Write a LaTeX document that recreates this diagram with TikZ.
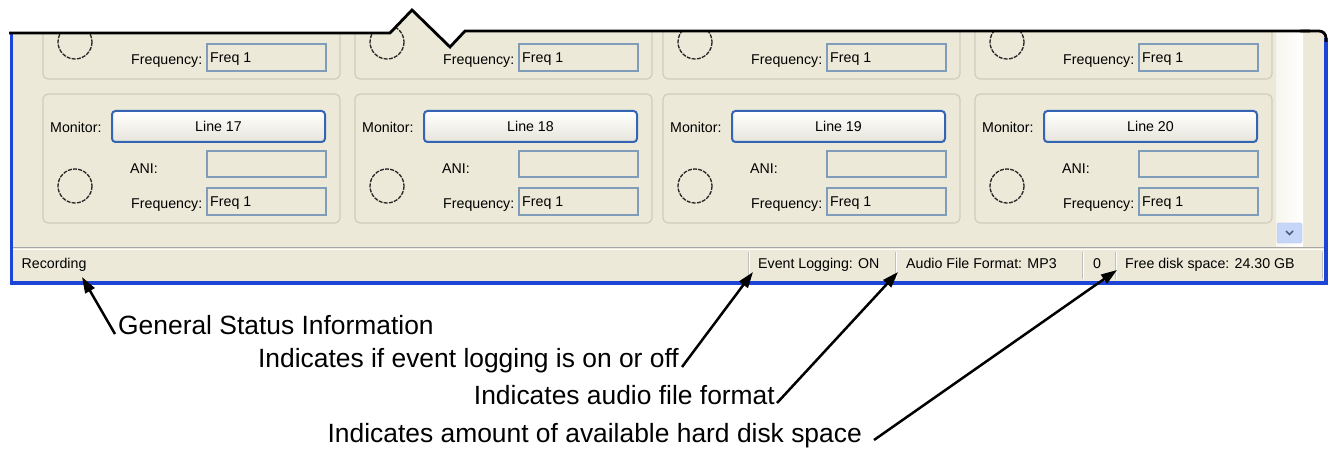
\documentclass[tikz,border=0pt]{standalone}
\usepackage{fontspec}
\setmainfont{Liberation Sans}
\usetikzlibrary{arrows.meta}

\begin{document}
\begin{tikzpicture}[x=1pt,y=-1pt,
	ui/.style={inner sep=0pt,font=\fontsize{14.2}{16}\selectfont},
	note/.style={inner sep=0pt,font=\fontsize{26.4}{30}\selectfont},
	callout/.style={-{Triangle[length=16pt,width=10.5pt]},line width=2.5pt},
	grpbox/.style={draw=winGroup,line width=1.2pt,rounded corners=5pt},
	linebtn/.style={draw=winBtn,line width=2pt,rounded corners=3.5pt,top color=white,bottom color=winBtnLow},
	fieldbox/.style={draw=winField,line width=1.3pt},
	lamp/.style={draw=black!85,line width=1.3pt,dash pattern=on 4pt off 1.2pt}]
\definecolor{winFace}{HTML}{ECE9D8}
\definecolor{winGroup}{HTML}{CFCCBC}
\definecolor{winBtn}{HTML}{3464B4}
\definecolor{winBtnLow}{HTML}{E6E4DA}
\definecolor{winField}{HTML}{7F9DB9}
\definecolor{winBlue}{HTML}{1C45D6}
\definecolor{winScroll}{HTML}{C6D6F8}
\definecolor{winScrollEdge}{HTML}{AFC3EE}
\definecolor{winChevron}{HTML}{4D6185}
\def\wl{11.5}
\def\wr{1326}
\def\wb{283}

\useasboundingbox (0,0) rectangle (1333,449);
\fill[white] (0,0) rectangle (1333,449);

\begin{scope}
\clip (\wl,33) -- (390,33) -- (412,10) -- (450,47) -- (465,31) -- (\wr,31) -- (\wr,\wb) -- (\wl,\wb) -- cycle;
\fill[winFace] (0,0) rectangle (1333,449);
\shade[left color=winFace!45!white,right color=white] (1276,0) rectangle (1303,246);

% group boxes, the upper row runs off the top
\foreach \r/\yy in {1/-50,2/94} {
	\foreach \c/\xx in {1/43,2/355,3/663,4/975} {
		\draw[grpbox] (\xx,\yy) rectangle ++(297,129);
		\draw[lamp] (\xx+32,\yy+92) circle[radius=17];
		\node[ui,anchor=base west] (frq-\r-\c) at (\xx+88,\yy+115) {Frequency:};
		\draw[fieldbox] (\xx+164,\yy+94) rectangle ++(119,27);
		\node[ui,anchor=base west] (frv-\r-\c) at (\xx+167,\yy+113) {Freq 1};
	}
}
\foreach \c/\xx/\num in {1/43/17,2/355/18,3/663/19,4/975/20} {
	\node[ui,anchor=base west] (mon-\c) at (\xx+7,133) {Monitor:};
	\draw[linebtn] (\xx+69,111) rectangle (\xx+282,142);
	\node[ui,anchor=base] (btn-\c) at (\xx+175.5,132) {Line \num};
	\node[ui,anchor=base west] (ani-\c) at (\xx+87,174) {ANI:};
	\draw[fieldbox] (\xx+164,151) rectangle (\xx+283,177);
}

\draw[draw=winScrollEdge,fill=winScroll,rounded corners=2pt] (1277,223) rectangle (1302,243);
\draw[winChevron,line width=1.6pt] (1286,231) -- (1289.5,234.5) -- (1293,231);

% status bar
\draw[black!35,line width=1.5pt] (0,247.5) -- (1333,247.5);
\draw[white,line width=1pt] (0,249.5) -- (1333,249.5);
\foreach \sx in {748,895,1082,1115,1322} {
	\draw[black!25,line width=0.8pt] (\sx,252) -- (\sx,279);
	\draw[white,line width=0.8pt] (\sx+1,252) -- (\sx+1,279);
}
\node[ui,anchor=base west] (stRec) at (21.5,269) {Recording};
\node[ui,anchor=base west] (stLog) at (758,269) {Event Logging: ON};
\node[ui,anchor=base west] (stFmt) at (906,269) {Audio File Format: MP3};
\node[ui,anchor=base west] (stCnt) at (1093,269) {0};
\node[ui,anchor=base west] (stDisk) at (1125,269) {Free disk space: 24.30 GB};
\end{scope}

\draw[winBlue,line width=3.2pt] (\wl,34) -- (\wl,\wb) -- (\wr,\wb) -- (\wr,38);
\draw[line width=2.8pt] (9,33) -- (390,33) -- (412,10) -- (450,47) -- (465,31) -- (1310,31);
\draw[line width=2.8pt,rounded corners=7pt] (1300,31) -- (\wr,31) -- (\wr,42);

\node[note,anchor=base west] (noteGen) at (118,334) {General Status Information};
\node[note,anchor=base east] (noteLog) at (679,367) {Indicates if event logging is on or off};
\node[note,anchor=base east] (noteFmt) at (775,404) {Indicates audio file format};
\node[note,anchor=base east] (noteDisk) at (862,442) {Indicates amount of available hard disk space};

\coordinate (recTip) at (82,277);
\coordinate (logTip) at (753,272);
\coordinate (fmtTip) at (898,272);
\coordinate (diskTip) at (1117,270);
\draw[callout] ([xshift=-3pt]noteGen.base west) -- (recTip);
\draw[callout] ([xshift=3pt]noteLog.base east) -- (logTip);
\draw[callout] ([xshift=2pt,yshift=1pt]noteFmt.base east) -- (fmtTip);
\draw[callout] ([xshift=12pt,yshift=2pt]noteDisk.base east) -- (diskTip);
\end{tikzpicture}
\end{document}
